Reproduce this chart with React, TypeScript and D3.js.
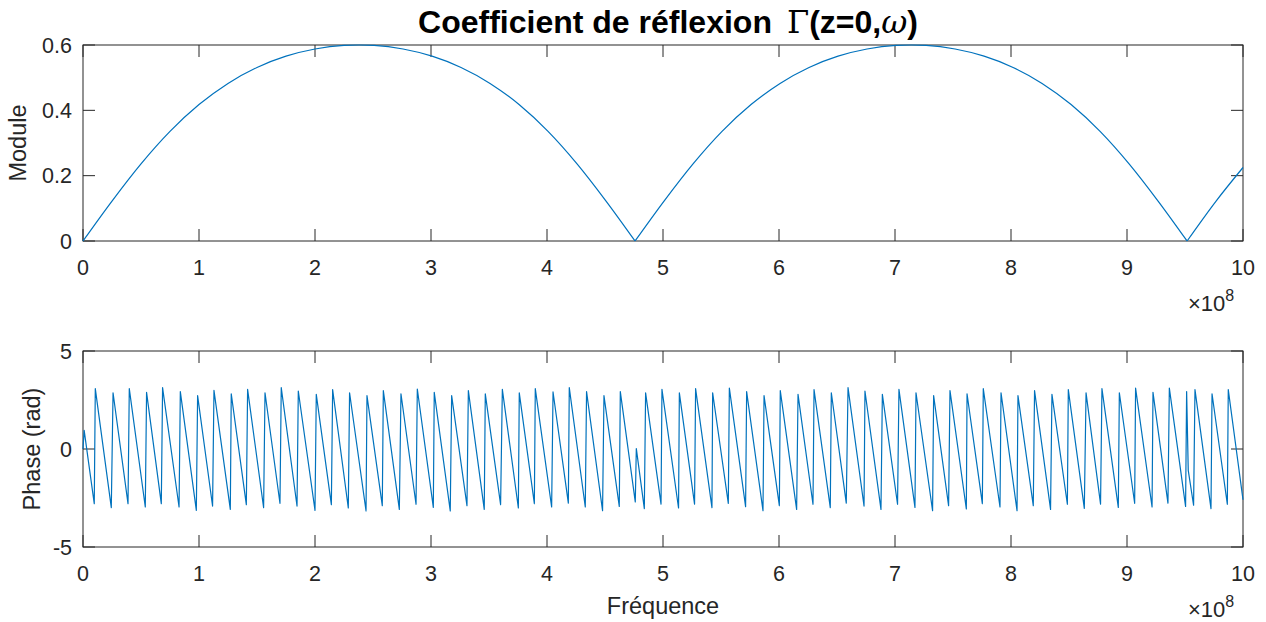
import React from "react";
import * as d3 from "d3";

// ---------- data (frequency in units of 1e8 Hz) ----------
const freqTicks = [0, 1, 2, 3, 4, 5, 6, 7, 8, 9, 10];
const moduleTicks = [0, 0.2, 0.4, 0.6];
const phaseTicks = [-5, 0, 5];

const moduleFreq = [
  0, 0.25, 0.5, 0.75, 1.0, 1.25, 1.5, 1.75, 2.0, 2.25, 2.38, 2.509, 2.759, 3.009, 3.259, 3.509, 3.759, 4.009, 4.259, 4.509, 4.759,
  5.009, 5.259, 5.509, 5.759, 6.009, 6.259, 6.509, 6.759, 7.009, 7.139, 7.268, 7.518, 7.768, 8.018, 8.268, 8.518, 8.768, 9.018, 9.268, 9.518,
  9.768, 10.0,
];
const moduleValue = [
  0, 0.1223, 0.2362, 0.3357, 0.4178, 0.4825, 0.5313, 0.5658, 0.5878, 0.5987, 0.6, 0.5987, 0.5878, 0.5658, 0.5313, 0.4825, 0.4178, 0.3357, 0.2362, 0.1223, 0,
  0.1223, 0.2362, 0.3357, 0.4178, 0.4825, 0.5313, 0.5658, 0.5878, 0.5987, 0.6, 0.5987, 0.5878, 0.5658, 0.5313, 0.4825, 0.4178, 0.3357, 0.2362, 0.1223, 0,
  0.1223, 0.225,
];

const phaseFreq = [
  0, 0.01, 0.097, 0.106, 0.244, 0.259, 0.388, 0.399, 0.537, 0.548, 0.675, 0.686, 0.828, 0.839, 0.977, 0.988,
  1.117, 1.129, 1.27, 1.278, 1.408, 1.419, 1.557, 1.569, 1.698, 1.709, 1.845, 1.856, 2.0, 2.011, 2.141, 2.152,
  2.287, 2.298, 2.44, 2.448, 2.58, 2.589, 2.727, 2.741, 2.871, 2.882, 3.02, 3.028, 3.166, 3.178, 3.31, 3.322,
  3.459, 3.468, 3.6, 3.615, 3.753, 3.761, 3.891, 3.899, 4.04, 4.052, 4.184, 4.192, 4.33, 4.341, 4.479, 4.491,
  4.623, 4.632, 4.761, 4.77, 4.839, 4.85, 4.983, 4.991, 5.134, 5.141, 5.272, 5.281, 5.422, 5.428, 5.563, 5.572,
  5.712, 5.721, 5.862, 5.871, 6.003, 6.011, 6.152, 6.164, 6.293, 6.302, 6.442, 6.451, 6.58, 6.595, 6.733, 6.741,
  6.879, 6.891, 7.022, 7.034, 7.172, 7.181, 7.324, 7.333, 7.462, 7.474, 7.615, 7.621, 7.753, 7.761, 7.905, 7.914,
  8.052, 8.06, 8.192, 8.203, 8.341, 8.353, 8.486, 8.494, 8.632, 8.647, 8.772, 8.784, 8.925, 8.934, 9.066, 9.074,
  9.216, 9.224, 9.353, 9.365, 9.505, 9.514, 9.528, 9.574, 9.586, 9.724, 9.733, 9.865, 9.873, 10.0,
];
const phaseValue = [
  0, 0.95, -2.79, 3.08, -2.99, 2.87, -2.79, 3.08, -2.96, 2.89, -2.79, 3.13, -2.96, 2.93, -3.13, 2.72,
  -2.91, 2.99, -3.08, 2.81, -2.84, 3.04, -2.99, 2.87, -2.77, 3.13, -2.91, 2.96, -3.13, 2.79, -2.84, 3.03,
  -3.01, 2.87, -3.16, 2.72, -2.89, 2.98, -3.08, 2.82, -2.82, 3.06, -2.98, 2.89, -3.16, 2.72, -2.89, 2.98,
  -3.08, 2.81, -2.84, 3.04, -3.01, 2.86, -2.79, 3.08, -2.96, 2.91, -2.76, 3.13, -2.96, 2.93, -3.15, 2.72,
  -2.93, 2.93, -2.7, 0.02, -3.04, 2.86, -2.81, 3.04, -3.01, 2.86, -2.81, 3.08, -2.99, 2.87, -2.77, 3.11,
  -2.94, 2.93, -3.15, 2.72, -2.89, 2.98, -3.08, 2.79, -2.82, 3.03, -2.99, 2.87, -2.76, 3.13, -2.91, 2.96,
  -3.08, 2.79, -2.82, 3.04, -2.98, 2.87, -3.15, 2.72, -2.89, 2.98, -3.06, 2.82, -2.79, 3.08, -2.96, 2.87,
  -3.15, 2.72, -2.89, 2.98, -3.08, 2.79, -2.82, 3.03, -3.03, 2.86, -2.81, 3.08, -2.98, 2.87, -2.77, 3.11,
  -2.96, 2.89, -2.76, 3.11, -2.93, 2.93, -1.09, -2.87, 3.03, -3.04, 2.82, -2.82, 3.03, -2.59,
];

// ---------- layout ----------
const W = 1266;
const H = 622;
const left = 83;
const right = 1243;
const top1 = 45;
const bot1 = 241;
const top2 = 351;
const bot2 = 547;
const AX = "#262626";
const LINE = "#0072BD";
const FONT = "'Liberation Sans', Arial, Helvetica, sans-serif";
const TICK_FS = 21.5;
const LABEL_FS = 23.5;
const TICK_LEN = 12;

const x = d3.scaleLinear().domain([0, 10]).range([left, right]);
const y1 = d3.scaleLinear().domain([0, 0.6]).range([bot1, top1]);
const y2 = d3.scaleLinear().domain([-5, 5]).range([bot2, top2]);

function Axes({ y, yTicks, top, bottom, fmt }: any) {
  return (
    <g>
      {freqTicks.map((t) => (
        <g key={"x" + t}>
          <line x1={x(t)} x2={x(t)} y1={bottom} y2={bottom - TICK_LEN} stroke={AX} strokeWidth={1} />
          <line x1={x(t)} x2={x(t)} y1={top} y2={top + TICK_LEN} stroke={AX} strokeWidth={1} />
          <text x={x(t)} y={bottom + 34} textAnchor="middle" fontSize={TICK_FS} fill={AX} fontFamily={FONT}>
            {t}
          </text>
        </g>
      ))}
      {yTicks.map((t: number) => (
        <g key={"y" + t}>
          <line x1={left} x2={left + TICK_LEN} y1={y(t)} y2={y(t)} stroke={AX} strokeWidth={1} />
          <line x1={right} x2={right - TICK_LEN} y1={y(t)} y2={y(t)} stroke={AX} strokeWidth={1} />
          <text x={left - 11} y={y(t) + 7.5} textAnchor="end" fontSize={TICK_FS} fill={AX} fontFamily={FONT}>
            {fmt(t)}
          </text>
        </g>
      ))}
      <rect x={left} y={top} width={right - left} height={bottom - top} fill="none" stroke={AX} strokeWidth={1} />
      <text x={right - 55} y={bottom + 70} fontSize={22} fill={AX} fontFamily={FONT}>
        <tspan>×10</tspan>
        <tspan dy={-10} fontSize={16}>8</tspan>
      </text>
    </g>
  );
}

export default function App() {
  // split module into arches at zero points
  const segs: number[][] = [];
  let cur: number[] = [];
  moduleValue.forEach((v, i) => {
    cur.push(i);
    if (v === 0 && cur.length > 1) {
      segs.push(cur);
      cur = [i];
    }
  });
  if (cur.length > 1) segs.push(cur);

  const segLine = d3
    .line<number>()
    .x((i) => x(moduleFreq[i]))
    .y((i) => y1(moduleValue[i]))
    .curve(d3.curveMonotoneX);

  const phaseLine = d3
    .line<number>()
    .x((_, i) => x(phaseFreq[i]))
    .y((d) => y2(d));

  return (
    <svg width={W} height={H} style={{ position: "absolute", left: 0, top: 0, background: "#fff" }}>
      <rect x={0} y={0} width={W} height={H} fill="#fff" />
      <Axes y={y1} yTicks={moduleTicks} top={top1} bottom={bot1} fmt={(t: number) => (t === 0 ? "0" : t.toFixed(1))} />
      <Axes y={y2} yTicks={phaseTicks} top={top2} bottom={bot2} fmt={(t: number) => String(t)} />
      {segs.map((s, k) => (
        <path key={k} d={segLine(s) || ""} fill="none" stroke={LINE} strokeWidth={1.2} />
      ))}
      <path d={phaseLine(phaseValue) || ""} fill="none" stroke={LINE} strokeWidth={1.2} strokeLinejoin="round" />
      <text x={(left + right) / 2 + 5} y={33} textAnchor="middle" fontSize={32} fontWeight="bold" fill="#000" fontFamily={FONT}>
        <tspan>Coefficient de réflexion</tspan>
        <tspan dx={15} fontFamily="'DejaVu Serif', serif" fontWeight="normal">Γ</tspan>
        <tspan>(z=0,</tspan>
        <tspan fontFamily="'DejaVu Serif', serif" fontWeight="normal" fontStyle="italic">ω</tspan>
        <tspan>)</tspan>
      </text>
      <text transform={`translate(26, ${(top1 + bot1) / 2}) rotate(-90)`} textAnchor="middle" fontSize={LABEL_FS} fill={AX} fontFamily={FONT}>
        Module
      </text>
      <text transform={`translate(40, ${(top2 + bot2) / 2}) rotate(-90)`} textAnchor="middle" fontSize={LABEL_FS} fill={AX} fontFamily={FONT}>
        Phase (rad)
      </text>
      <text x={(left + right) / 2} y={614} textAnchor="middle" fontSize={LABEL_FS} fill={AX} fontFamily={FONT}>
        Fréquence
      </text>
    </svg>
  );
}
